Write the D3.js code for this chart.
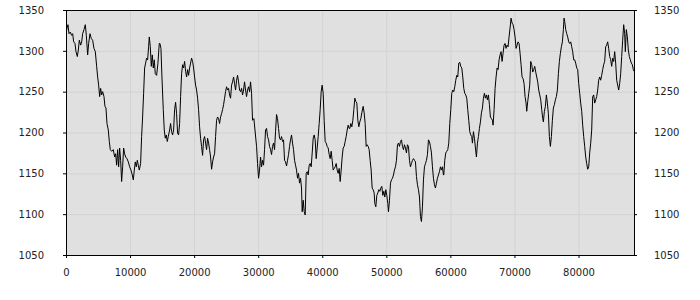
<!DOCTYPE html>
<html lang="en">
<head>
<meta charset="utf-8">
<title>Series</title>
<style>
body {
  margin: 0;
  background: #fff;
}
.tick text {
  font: 10px "DejaVu Sans", sans-serif;
  fill: #222;
}
.axis path, .axis line {
  stroke: #000;
}
.grid line {
  stroke: #d2d2d2;
}
.grid path {
  display: none;
}
</style>
</head>
<body>
<div id="chart"></div>
<script src="https://d3js.org/d3.v7.min.js"></script>
<script>
// x positions (sample index) of the series
var steps = [
  0,156,312,468,676,884,1040,1196,1404,1560,
  1768,1924,2080,2288,2444,2600,2808,3016,3172,3380,
  3536,3744,3952,4160,4368,4576,4784,4940,5096,5252,
  5408,5564,5720,5928,6084,6240,6396,6604,6760,6916,
  7124,7384,7592,7748,7904,8060,8216,8372,8528,8684,
  8840,8996,9152,9308,9516,9724,9932,10140,10348,10504,
  10660,10816,10972,11128,11284,11440,11648,11804,11960,12116,
  12272,12428,12584,12740,12896,13000,13156,13312,13468,13624,
  13780,13936,14144,14352,14560,
  14664,14820,14976,15184,15340,15496,15652,15808,15964,16172,
  16328,16484,16640,16796,16952,17108,17264,17420,17576,17732,
  17888,18044,18200,18356,18512,18668,18824,18980,19136,19292,
  19448,19604,19760,19916,20072,20228,20384,20540,20696,20852,
  21008,21164,21320,21476,21632,21788,21944,22100,22256,22412,
  22568,22724,22880,23036,23192,23348,23504,23660,23816,23972,
  24128,24284,24440,24596,24752,24908,25064,25220,25376,25532,
  25688,25844,26000,26156,26312,26468,26624,26780,26936,27092,
  27248,27404,27560,27716,27872,28028,28184,28340,28496,28652,
  28808,28964,29120,29328,
  29744,29900,30056,30212,30368,30524,30680,30836,30992,31148,
  31304,31460,31616,31772,31928,32084,32240,32396,32552,32708,
  32864,33020,33176,33332,33488,33644,33800,33956,34112,34268,
  34424,34580,34736,34892,35048,35204,35360,35516,35672,35828,
  35984,36140,36296,36452,36608,36764,36868,37024,37180,37336,
  37492,37648,37804,37960,38116,38272,38428,38584,38740,38896,
  39052,39208,39364,39520,39676,39832,39988,40144,40300,40456,
  40612,40768,40924,41080,41236,41392,41548,41704,41860,42016,
  42172,42328,42484,42640,42796,42952,43108,43264,43420,43576,
  43732,43888,44044,44200,
  44304,44460,44616,44772,44928,45084,45240,45396,45552,45708,
  45864,46020,46176,46384,46540,46696,46852,47008,47164,47320,
  47476,47632,47788,47944,48100,48204,48360,48516,48672,48828,
  48984,49140,49296,49452,49608,49764,49920,50076,50232,50336,
  50492,50648,50804,50960,51116,51272,51428,51584,51740,51896,
  52052,52208,52364,52520,52676,52832,52988,53144,53300,53456,
  53612,53768,53924,54080,54236,54392,54548,54704,54860,55016,
  55172,55328,55484,55640,55796,55952,56108,56264,56420,56576,
  56732,56888,57044,57200,57356,57512,57668,57824,57980,58136,
  58292,58448,58604,58760,58916,
  58968,59124,59280,59436,59592,59748,59904,60060,60216,60372,
  60528,60684,60840,60996,61152,61308,61464,61620,61776,61932,
  62088,62244,62400,62556,62712,62868,63024,63180,63336,63440,
  63596,63752,63908,64064,64220,64376,64532,64688,64844,65000,
  65156,65312,65468,65624,65780,65936,66092,66248,66404,66560,
  66664,66820,66976,67132,67288,67444,67600,67756,67912,68068,
  68224,68380,68536,68692,68848,69004,69160,69316,69472,69628,
  69784,69940,70096,70252,70408,70564,70720,70876,71032,71188,
  71344,71500,71656,71812,71916,72072,72228,72384,72540,72696,
  72852,73008,73164,73320,73476,73632,73788,
  73944,74100,74256,74412,74516,74672,74828,74984,75140,75296,
  75452,75608,75764,75920,76076,76232,76388,76544,76700,76856,
  77012,77168,77324,77480,77636,77740,77844,78000,78156,78312,
  78468,78624,78780,78936,79092,79248,79404,79560,79716,79872,
  80028,80184,80340,80496,80652,80808,80964,81120,81276,81432,
  81588,81744,81900,82056,82212,82368,82524,82680,82836,82992,
  83148,83304,83460,83616,83772,83928,84084,84240,84396,84552,
  84708,84864,85020,85176,85332,85488,85644,85800,85956,86112,
  86268,86424,86580,86736,86892,87048,87204,87308,87464,87620,
  87776,87932,88088,88244,88400,88556,88660
];
// series values
var values = [
  1321,1328,1332,1321,1323,1319,1321,1311,1309,1299,
  1293,1301,1313,1307,1311,1321,1326,1332,1319,1295,
  1309,1321,1315,1313,1303,1299,1281,1268,1258,1244,
  1254,1246,1250,1244,1232,1230,1211,1203,1189,1179,
  1177,1179,1170,1174,1160,1179,1158,1181,1166,1140,
  1158,1181,1174,1170,1168,1164,1158,1154,1148,1142,
  1154,1164,1158,1166,1160,1154,1162,1195,1219,1248,
  1279,1285,1291,1289,1305,1317,1305,1281,1295,1279,
  1289,1272,1270,1285,1309,
  1309,1303,1268,1228,1203,1193,1197,1189,1195,1203,
  1211,1201,1197,1203,1228,1237,1223,1199,1197,1211,
  1244,1272,1283,1279,1287,1275,1268,1277,1270,1279,
  1285,1291,1287,1279,1268,1258,1252,1242,1228,1207,
  1193,1183,1172,1191,1195,1187,1179,1193,1187,1179,
  1170,1155,1164,1170,1174,1195,1215,1219,1217,1211,
  1219,1223,1228,1234,1242,1250,1256,1252,1254,1246,
  1242,1258,1262,1268,1260,1252,1264,1270,1262,1252,
  1250,1254,1246,1252,1262,1252,1244,1252,1256,1250,
  1262,1248,1215,1217,
  1183,1162,1144,1154,1170,1158,1166,1160,1179,1203,
  1205,1195,1191,1183,1179,1173,1183,1187,1179,1201,
  1222,1217,1205,1193,1191,1195,1189,1191,1166,1164,
  1159,1166,1173,1183,1191,1197,1187,1179,1166,1160,
  1154,1144,1150,1138,1144,1132,1103,1117,1103,1099,
  1150,1152,1148,1160,1162,1158,1175,1193,1197,1191,
  1168,1181,1195,1211,1228,1250,1258,1248,1215,1189,
  1187,1183,1181,1173,1168,1177,1166,1154,1156,1158,
  1162,1154,1150,1156,1140,1154,1170,1181,1183,1189,
  1195,1203,1209,1205,
  1205,1211,1207,1215,1228,1242,1238,1236,1215,1207,
  1213,1217,1224,1232,1224,1211,1183,1185,1183,1179,
  1166,1154,1132,1130,1126,1113,1109,1123,1126,1130,
  1128,1132,1134,1123,1128,1121,1130,1123,1113,1103,
  1117,1138,1142,1144,1148,1154,1158,1166,1185,1187,
  1183,1189,1191,1183,1179,1185,1181,1175,1185,1183,
  1166,1158,1162,1166,1168,1166,1164,1146,1136,1130,
  1121,1097,1091,1109,1142,1158,1162,1166,1173,1191,
  1189,1183,1175,1158,1144,1136,1132,1138,1144,1148,
  1152,1158,1154,1158,1148,
  1148,1166,1175,1177,1179,1187,1211,1228,1248,1252,
  1250,1256,1264,1270,1268,1285,1286,1281,1279,1268,
  1254,1248,1246,1242,1228,1215,1201,1197,1195,1187,
  1201,1193,1181,1170,1187,1195,1205,1213,1224,1230,
  1242,1248,1242,1246,1240,1246,1234,1219,1217,1215,
  1209,1228,1254,1268,1279,1277,1289,1295,1299,1287,
  1297,1307,1309,1303,1307,1305,1317,1328,1340,1334,
  1332,1326,1317,1303,1307,1311,1309,1297,1283,1268,
  1266,1260,1244,1236,1226,1238,1248,1258,1287,1283,
  1274,1277,1281,1274,1268,1262,1252,
  1246,1240,1228,1217,1213,1226,1232,1246,1236,1223,
  1195,1183,1195,1215,1230,1234,1240,1244,1252,1272,
  1287,1297,1305,1311,1326,1340,1336,1326,1321,1317,
  1311,1309,1311,1305,1299,1289,1289,1285,1279,1277,
  1260,1248,1236,1226,1209,1195,1183,1170,1162,1155,
  1158,1175,1187,1203,1244,1246,1236,1240,1244,1252,
  1264,1268,1264,1270,1277,1283,1287,1305,1307,1311,
  1303,1293,1289,1281,1291,1287,1299,1285,1264,1258,
  1252,1260,1272,1293,1313,1332,1321,1299,1326,1317,
  1301,1293,1289,1285,1283,1277,1275
];
var xTicks = [0, 10000, 20000, 30000, 40000, 50000, 60000, 70000, 80000];
var yTicks = [1050, 1100, 1150, 1200, 1250, 1300, 1350];

var margin = { top: 10, right: 66, bottom: 45, left: 66 };
var width = 700 - margin.left - margin.right;
var height = 300 - margin.top - margin.bottom;

var xS = d3.scaleLinear()
  .domain([0, d3.max(steps)])
  .range([0, width]);
var yS = d3.scaleLinear()
  .domain([1050, 1350])
  .range([height, 0]);
var fmt = d3.format('d');

var svg = d3.select('#chart')
  .append('svg')
  .attr('width', 700)
  .attr('height', 300);
var graph = svg.append('g')
  .attr('transform', 'translate(' + margin.left + ',' + margin.top + ')');

// plot background
graph.append('rect')
  .attr('width', width)
  .attr('height', height)
  .attr('fill', '#e0e0e0');

// grid lines
graph.append('g')
  .attr('class', 'grid')
  .attr('transform', 'translate(0,' + height + ')')
  .call(d3.axisBottom(xS).tickValues(xTicks).tickSize(-height).tickFormat(''));
graph.append('g')
  .attr('class', 'grid')
  .call(d3.axisLeft(yS).tickValues(yTicks).tickSize(-width).tickFormat(''));

graph.append('clipPath')
  .attr('id', 'clip')
  .append('rect')
  .attr('width', width)
  .attr('height', height);

var pts = steps.map(function(s, i) { return [s, values[i]]; });
var line = d3.line()
  .x(function(d) { return xS(d[0]); })
  .y(function(d) { return yS(d[1]); });

graph.append('path')
  .datum(pts)
  .attr('clip-path', 'url(#clip)')
  .attr('fill', 'none')
  .attr('stroke', '#000')
  .attr('stroke-width', 1)
  .attr('d', line);

// axes
graph.append('g')
  .attr('class', 'axis')
  .call(d3.axisLeft(yS).tickValues(yTicks).tickFormat(fmt)
    .tickSize(3).tickPadding(19).tickSizeOuter(0));
graph.append('g')
  .attr('class', 'axis')
  .attr('transform', 'translate(' + width + ',0)')
  .call(d3.axisRight(yS).tickValues(yTicks).tickFormat(fmt)
    .tickSize(3).tickPadding(17).tickSizeOuter(0));
graph.append('g')
  .attr('class', 'axis')
  .attr('transform', 'translate(0,' + height + ')')
  .call(d3.axisBottom(xS).tickValues(xTicks).tickFormat(fmt)
    .tickSize(3).tickPadding(11).tickSizeOuter(0));
// top border
graph.append('line')
  .attr('x1', 0)
  .attr('x2', width)
  .attr('y1', 0.5)
  .attr('y2', 0.5)
  .attr('stroke', '#000');
</script>
</body>
</html>
